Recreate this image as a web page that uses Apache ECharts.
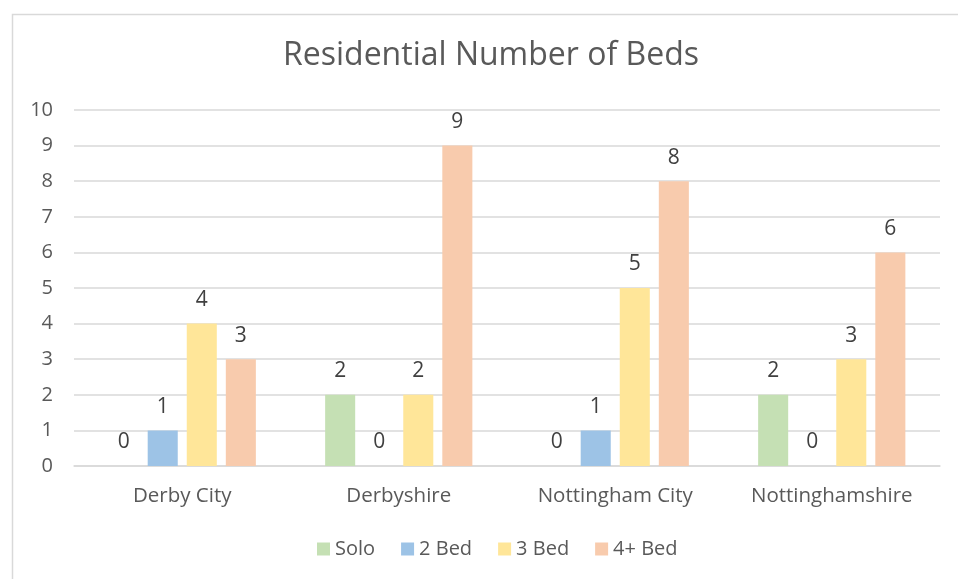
<!DOCTYPE html>
<html>
<head>
<meta charset="utf-8">
<script src="https://cdn.jsdelivr.net/npm/echarts@6/dist/echarts.min.js"></script>
<style>
html,body{margin:0;padding:0;background:#fff;}
#chart{width:958px;height:579px;}
</style>
</head>
<body>
<div id="chart"></div>
<script>
const categories = ["Derby City", "Derbyshire", "Nottingham City", "Nottinghamshire"];
const seriesNames = ["Solo", "2 Bed", "3 Bed", "4+ Bed"];
const solo = [0, 2, 0, 2];
const bed2 = [1, 0, 1, 0];
const bed3 = [4, 2, 5, 3];
const bed4 = [3, 9, 8, 6];
const yTicks = [0, 1, 2, 3, 4, 5, 6, 7, 8, 9, 10];
const colors = ["#C5E0B4", "#9DC3E6", "#FFE699", "#F8CBAD"];

const font = "'Open Sans', 'Noto Sans', sans-serif";
const values = [solo, bed2, bed3, bed4];

const chart = echarts.init(document.getElementById('chart'), null, {renderer: 'canvas'});
chart.setOption({
  animation: false,
  backgroundColor: '#fff',
  graphic: [{
    type: 'rect', left: 10, top: 12, silent: true,
    shape: {width: 960, height: 600},
    style: {fill: 'none', stroke: '#d9d9d9', lineWidth: 1.5}
  }],
  title: {
    text: 'Residential Number of Beds',
    left: 278, top: 35,
    textStyle: {fontFamily: font, fontSize: 32, fontWeight: 'normal', color: '#595959'}
  },
  legend: {
    data: seriesNames,
    bottom: 15, left: 312,
    itemWidth: 13, itemHeight: 13, itemGap: 26,
    icon: 'rect',
    textStyle: {fontFamily: font, fontSize: 20, color: '#595959'}
  },
  grid: {left: 74, right: 18, top: 110, bottom: 113, containLabel: false},
  xAxis: {
    type: 'category', data: categories,
    axisLine: {lineStyle: {color: '#d9d9d9', width: 1.5}},
    axisTick: {show: false},
    axisLabel: {fontFamily: font, fontSize: 20.5, color: '#595959', margin: 20}
  },
  yAxis: {
    type: 'value', min: 0, max: 10, interval: 1,
    axisLine: {show: false}, axisTick: {show: false},
    splitLine: {lineStyle: {color: '#d9d9d9', width: 1.5}},
    axisLabel: {fontFamily: font, fontSize: 20, color: '#595959', margin: 21,
      formatter: v => String(yTicks[v] !== undefined ? yTicks[v] : v)}
  },
  series: seriesNames.map((name, i) => ({
    name, type: 'bar', data: values[i],
    barGap: '30%', barCategoryGap: '32%',
    itemStyle: {color: colors[i]},
    label: {show: true, position: 'top', distance: 13,
      fontFamily: font, fontSize: 21, color: '#404040'}
  }))
});
</script>
</body>
</html>
